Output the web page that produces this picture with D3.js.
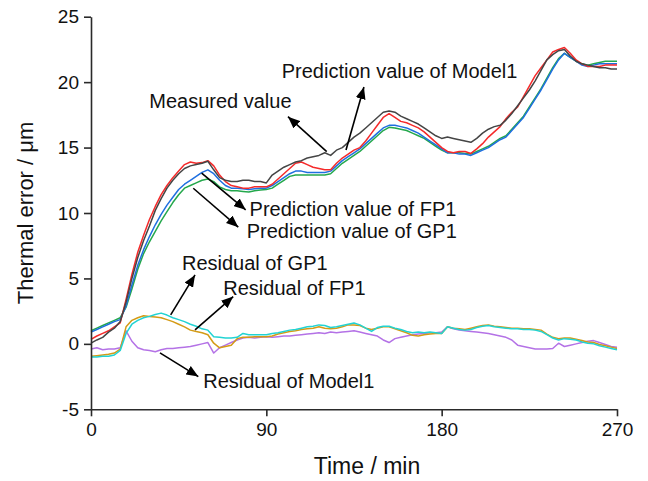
<!DOCTYPE html>
<html>
<head>
<meta charset="utf-8">
<script src="https://cdn.jsdelivr.net/npm/d3@7"></script>
<style>
  html, body { margin: 0; padding: 0; background: #fff; }
  svg { display: block; font-family: "Liberation Sans", Arial, sans-serif; }
</style>
</head>
<body>
<svg id="chart" width="648" height="481"></svg>
<script>
// Sampling times (min)
const time = d3.range(0, 271, 3);

// Thermal error (μm)
const measured = [0.05,0.3,0.5,0.9,1.2,1.7,3.2,5.0,6.6,7.9,9.0,10.2,11.1,11.9,12.5,13.0,13.4,13.6,13.7,13.8,13.95,13.3,12.7,12.5,12.4,12.4,12.5,12.5,12.4,12.4,12.3,12.9,13.2,13.5,13.7,13.9,14.0,14.2,14.3,14.4,14.6,14.4,14.8,15.0,15.4,15.8,16.1,16.5,16.9,17.3,17.7,17.8,17.7,17.4,17.2,17.0,16.8,16.5,16.2,15.9,15.7,15.8,15.7,15.6,15.5,15.4,15.7,16.1,16.4,16.6,16.7,17.1,17.6,18.2,18.8,19.4,20.1,20.9,21.7,22.1,22.4,22.5,22.0,21.6,21.4,21.3,21.2,21.1,21.1,21.0,21.0];
const predModel1 = [0.35,0.6,0.8,1.0,1.3,1.6,3.4,5.3,7.0,8.3,9.5,10.5,11.4,12.1,12.7,13.2,13.7,13.9,13.8,13.85,14.0,13.6,12.9,12.4,12.1,12.0,11.9,11.9,12.0,12.0,12.0,12.2,12.6,13.0,13.4,13.8,13.9,13.7,13.5,13.4,13.3,13.3,13.8,14.2,14.5,14.8,15.0,15.5,16.1,16.7,17.3,17.6,17.3,17.0,16.9,16.7,16.5,16.2,15.8,15.4,15.0,14.7,14.6,14.7,14.7,14.55,14.9,15.3,15.8,16.2,16.6,17.2,17.7,18.1,18.9,19.7,20.5,21.1,21.7,22.3,22.5,22.65,22.2,21.7,21.4,21.2,21.2,21.2,21.3,21.3,21.3];
const predFP1 = [0.9,1.1,1.3,1.5,1.7,1.85,2.9,4.5,6.0,7.2,8.2,9.1,9.9,10.6,11.2,11.8,12.2,12.5,12.8,13.1,13.3,13.0,12.5,12.1,11.9,11.9,11.85,11.8,11.85,11.9,11.9,12.1,12.4,12.7,13.0,13.2,13.2,13.1,13.1,13.1,13.1,13.2,13.6,14.0,14.3,14.6,14.9,15.3,15.7,16.1,16.5,16.7,16.7,16.6,16.5,16.3,16.1,15.8,15.5,15.2,14.9,14.6,14.6,14.5,14.5,14.4,14.6,14.8,15.0,15.3,15.6,15.8,16.3,16.8,17.3,18.0,18.7,19.4,20.2,21.0,21.7,22.2,21.9,21.6,21.3,21.2,21.3,21.4,21.4,21.4,21.4];
const predGP1 = [1.0,1.2,1.4,1.6,1.8,2.0,2.8,4.2,5.7,6.9,7.8,8.6,9.4,10.1,10.8,11.4,11.9,12.1,12.3,12.5,12.6,12.4,12.0,11.8,11.7,11.7,11.65,11.6,11.7,11.75,11.8,11.9,12.2,12.5,12.8,12.9,12.9,12.9,12.9,12.9,12.9,13.0,13.4,13.8,14.1,14.4,14.7,15.1,15.5,15.9,16.3,16.55,16.5,16.4,16.3,16.1,15.9,15.7,15.4,15.1,14.8,14.6,14.6,14.6,14.55,14.5,14.7,14.9,15.1,15.4,15.7,15.9,16.4,16.9,17.4,18.1,18.8,19.5,20.3,21.1,21.8,22.2,21.9,21.6,21.4,21.3,21.4,21.5,21.6,21.6,21.6];
const residGP1 = [-1.0,-1.0,-0.95,-0.95,-0.85,-0.5,0.8,1.5,1.8,2.0,2.1,2.25,2.35,2.2,2.0,1.85,1.7,1.5,1.35,1.15,1.05,0.55,0.5,0.45,0.45,0.5,0.8,0.7,0.7,0.7,0.7,0.8,0.85,0.95,1.05,1.1,1.2,1.3,1.35,1.45,1.4,1.25,1.3,1.4,1.5,1.6,1.45,1.2,0.95,1.25,1.35,1.35,1.2,1.1,0.95,0.85,0.9,0.85,0.9,0.85,0.8,1.3,1.2,1.1,1.05,1.1,1.25,1.35,1.4,1.3,1.25,1.2,1.15,1.15,1.1,1.1,1.05,0.95,0.7,0.45,0.3,0.4,0.35,0.3,0.15,0.05,0.0,-0.15,-0.25,-0.35,-0.45];
const residFP1 = [-0.95,-0.9,-0.85,-0.8,-0.7,-0.4,1.3,1.8,2.0,2.15,2.1,2.05,2.0,1.85,1.7,1.5,1.3,1.05,0.95,0.85,0.7,0.05,-0.3,-0.2,-0.1,0.4,0.5,0.5,0.55,0.55,0.55,0.6,0.75,0.85,0.95,1.0,1.1,1.15,1.2,1.3,1.2,1.15,1.2,1.3,1.45,1.45,1.4,1.2,1.1,1.2,1.3,1.3,1.15,1.0,0.85,0.65,0.6,0.7,0.75,0.8,0.8,1.3,1.2,1.15,1.1,1.2,1.3,1.4,1.45,1.35,1.3,1.25,1.2,1.2,1.15,1.15,1.1,1.05,0.75,0.5,0.4,0.45,0.45,0.35,0.25,0.15,0.1,-0.05,-0.15,-0.25,-0.35];
const residModel1 = [-0.4,-0.3,-0.45,-0.4,-0.4,-0.3,1.0,0.2,-0.3,-0.45,-0.5,-0.6,-0.45,-0.35,-0.35,-0.3,-0.25,-0.2,-0.1,0.0,0.1,-0.7,-0.3,-0.1,0.1,0.3,0.45,0.5,0.45,0.5,0.55,0.5,0.55,0.6,0.6,0.65,0.7,0.75,0.8,0.85,0.8,0.9,0.85,0.9,0.95,1.0,0.9,0.8,0.7,0.6,0.3,0.1,0.4,0.5,0.6,0.7,0.75,0.8,0.85,0.85,0.9,1.3,1.15,1.05,1.0,0.95,0.9,0.85,0.8,0.7,0.6,0.5,0.3,-0.1,-0.2,-0.3,-0.4,-0.4,-0.4,-0.35,0.05,-0.2,-0.1,0.0,0.1,0.2,0.25,0.1,-0.05,-0.2,-0.25];

// Axis ticks
const xTicks = [0, 90, 180, 270];
const yTicks = [-5, 0, 5, 10, 15, 20, 25];

// Series drawing order and colours
const series = [
  { name: "Residual of Model1", values: residModel1, color: "#b472e6" },
  { name: "Residual of FP1", values: residFP1, color: "#d49b16" },
  { name: "Residual of GP1", values: residGP1, color: "#22d3d3" },
  { name: "Prediction value of GP1", values: predGP1, color: "#24a84c" },
  { name: "Prediction value of FP1", values: predFP1, color: "#1f6fe0" },
  { name: "Prediction value of Model1", values: predModel1, color: "#f52a2a" },
  { name: "Measured value", values: measured, color: "#454545" }
];

// Annotations: label anchor and arrow (from -> to), in data units
const notes = [
  { text: "Measured value", tx: 29.9, ty: 18.0, from: [121.0, 14.69], to: [101.1, 17.36] },
  { text: "Prediction value of Model1", tx: 97.9, ty: 20.34, from: [130.9, 14.82], to: [140.1, 19.63] },
  { text: "Prediction value of FP1", tx: 81.4, ty: 9.78, from: [56.8, 13.04], to: [79.4, 10.24] },
  { text: "Prediction value of GP1", tx: 79.9, ty: 8.10, from: [52.5, 11.89], to: [75.6, 8.92] },
  { text: "Residual of GP1", tx: 46.7, ty: 5.65, from: [40.9, 2.22], to: [53.4, 5.27] },
  { text: "Residual of FP1", tx: 67.9, ty: 3.74, from: [53.4, 1.07], to: [73.0, 3.61] },
  { text: "Residual of Model1", tx: 57.6, ty: -3.36, from: [35.4, -0.69], to: [55.1, -2.50] }
];

const svg = d3.select("#chart");
const x = d3.scaleLinear().domain([0, 270]).range([91, 617]);
const y = d3.scaleLinear().domain([-5, 25]).range([409.3, 16.7]);

// Arrowhead marker
svg.append("defs").append("marker")
  .attr("id", "arrowhead")
  .attr("viewBox", "0 0 12 10")
  .attr("refX", 12).attr("refY", 5)
  .attr("markerWidth", 12).attr("markerHeight", 10)
  .attr("markerUnits", "userSpaceOnUse")
  .attr("orient", "auto")
  .append("path")
  .attr("d", "M0,0 L12,5 L0,10 Z")
  .attr("fill", "#000");

// Curves
const line = d3.line()
  .x((d, i) => x(time[i]))
  .y(d => y(d));

svg.append("g").selectAll("path")
  .data(series)
  .join("path")
  .attr("d", s => line(s.values))
  .attr("fill", "none")
  .attr("stroke", s => s.color)
  .attr("stroke-width", 1.5)
  .attr("stroke-linejoin", "round");

// Axes (plain hyphen for negative ticks)
const fmt = d => String(d);
const xAxis = svg.append("g")
  .attr("transform", `translate(0,${y(-5)})`)
  .call(d3.axisBottom(x).tickValues(xTicks).tickFormat(fmt).tickSize(7).tickSizeOuter(0).tickPadding(6));
const yAxis = svg.append("g")
  .attr("transform", `translate(${x(0)},0)`)
  .call(d3.axisLeft(y).tickValues(yTicks).tickFormat(fmt).tickSize(7).tickSizeOuter(0).tickPadding(5));

[xAxis, yAxis].forEach(g => {
  g.select(".domain").attr("stroke", "#2a2a2a").attr("stroke-width", 1.6);
  g.selectAll(".tick line").attr("stroke", "#2a2a2a").attr("stroke-width", 1.6);
  g.selectAll(".tick text")
    .attr("fill", "#111")
    .style("font-size", "19px")
    .style("font-family", "'Liberation Sans', Arial, sans-serif");
});

// Axis titles
svg.append("text")
  .attr("x", 367)
  .attr("y", 474)
  .attr("text-anchor", "middle")
  .attr("fill", "#111")
  .style("font-size", "23px")
  .text("Time / min");

svg.append("text")
  .attr("transform", `translate(33,${(y(-5) + y(25)) / 2}) rotate(-90)`)
  .attr("text-anchor", "middle")
  .attr("fill", "#111")
  .style("font-size", "22px")
  .text("Thermal error / μm");

// Annotation arrows and labels
const ann = svg.append("g");
ann.selectAll("line")
  .data(notes)
  .join("line")
  .attr("x1", d => x(d.from[0])).attr("y1", d => y(d.from[1]))
  .attr("x2", d => x(d.to[0])).attr("y2", d => y(d.to[1]))
  .attr("stroke", "#000")
  .attr("stroke-width", 1.6)
  .attr("marker-end", "url(#arrowhead)");

ann.selectAll("text")
  .data(notes)
  .join("text")
  .attr("x", d => x(d.tx))
  .attr("y", d => y(d.ty))
  .attr("fill", "#111")
  .style("font-size", "20px")
  .text(d => d.text);
</script>
</body>
</html>
